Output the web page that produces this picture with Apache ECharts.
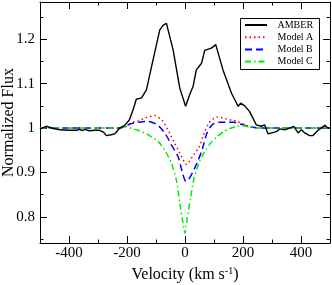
<!DOCTYPE html>
<html>
<head>
<meta charset="utf-8">
<script src="https://cdn.jsdelivr.net/npm/echarts@6/dist/echarts.min.js"></script>
<style>html,body{margin:0;padding:0;background:#fff;}#c{width:332px;height:285px;}</style>
</head>
<body>
<div id="c"></div>
<script>
// ---- data ----
var amberV = [-500,-478,-455,-430,-400,-375,-363,-355,-345,-330,-310,-294,-280,-271,-255,-242,-225,-208,-192,-179,-168,-150,-133,-110,-87,-75,-64,-59,-41,-18,2,16,28,39,57,68,91,106,131,160,183,192,206,223,246,263,275,286,315,327,344,361,375,390,401,413,430,441,459,482,493,500];
var amberF = [0.998,1.004,0.999,0.996,0.995,0.995,0.997,0.994,0.997,0.994,0.995,0.995,0.990,0.983,0.985,0.987,1.000,1.006,1.018,1.041,1.065,1.068,1.086,1.154,1.221,1.232,1.236,1.233,1.176,1.090,1.049,1.075,1.094,1.131,1.146,1.175,1.180,1.188,1.131,1.079,1.049,1.056,1.050,1.037,1.007,1.004,1.007,0.987,0.992,0.998,0.996,1.000,1.004,0.989,0.996,0.989,0.983,0.983,0.995,1.006,1.000,1.000];

var modelAV = [-500,-300,-230,-208,-185,-162,-140,-120,-105,-81,-70,-59,-47,-36,-24,-12,0,5,15,30,47,64,82,96,110,130,145,162,179,200,220,240,260,300,500];
var modelAF = [1.0,1.0,1.0,1.002,1.012,1.016,1.022,1.026,1.028,1.019,1.009,0.996,0.981,0.966,0.951,0.936,0.921,0.918,0.925,0.940,0.955,0.985,1.011,1.020,1.025,1.023,1.020,1.018,1.015,1.009,1.004,1.001,1.0,1.0,1.0];

var modelBV = [-500,-300,-230,-210,-185,-160,-128,-110,-93,-81,-70,-59,-47,-36,-24,-15,-7,0,5,12,19,30,41,59,76,93,108,122,145,168,185,202,220,240,260,300,500];
var modelBF = [1.0,1.0,1.0,1.003,1.010,1.013,1.015,1.012,1.006,0.998,0.989,0.977,0.962,0.950,0.936,0.915,0.895,0.882,0.880,0.884,0.891,0.905,0.921,0.951,0.989,1.007,1.012,1.013,1.013,1.013,1.010,1.007,1.003,1.001,1.0,1.0,1.0];

var modelCV = [-500,-300,-230,-208,-185,-162,-128,-93,-70,-47,-30,-18,-7,-2,0,2,7,19,30,41,53,70,88,110,133,155,179,202,225,250,300,500];
var modelCF = [1.0,1.0,1.0,1.003,0.999,0.995,0.985,0.970,0.951,0.921,0.884,0.831,0.786,0.768,0.763,0.770,0.795,0.842,0.884,0.908,0.929,0.949,0.966,0.980,0.992,0.999,1.004,1.005,1.002,1.0,1.0,1.0];

var xMajor = [-400,-200,0,200,400];
var xMinor = [-300,-100,100,300];
var yMajor = [0.8,0.9,1.0,1.1,1.2];
var yMinor = [0.75,0.85,0.95,1.05,1.15,1.25];

function pairs(v, f) { return v.map(function (x, i) { return [x, f[i]]; }); }

var FONT = 'Liberation Serif';
var XMIN = -500, XMAX = 500, YMIN = 0.741, YMAX = 1.284;

function xAx(pos, ticks, len, main) {
  return {
    type: 'value', position: pos, min: XMIN, max: XMAX, gridIndex: 0,
    axisLine: { show: !!main, onZero: false, lineStyle: { color: '#000', width: 1 } },
    axisTick: { show: true, inside: true, length: len, customValues: ticks, lineStyle: { color: '#000', width: 1 } },
    axisLabel: (main && pos === 'bottom') ? { show: true, customValues: xMajor, color: '#000', fontFamily: FONT, fontSize: 15, margin: 3 } : { show: false },
    splitLine: { show: false },
    name: (main && pos === 'bottom') ? 'Velocity (km s{sup|-1})' : '',
    nameLocation: 'middle', nameGap: 23, nameMoveOverlap: false,
    nameTextStyle: { color: '#000', fontFamily: FONT, fontSize: 16,
      rich: { sup: { fontFamily: FONT, fontSize: 10, color: '#000', verticalAlign: 'top', padding: [0, 0, 8, 0] } } }
  };
}
function yAx(pos, ticks, len, main) {
  return {
    type: 'value', position: pos, min: YMIN, max: YMAX, gridIndex: 0,
    axisLine: { show: !!main, onZero: false, lineStyle: { color: '#000', width: 1 } },
    axisTick: { show: true, inside: true, length: len, customValues: ticks, lineStyle: { color: '#000', width: 1 } },
    axisLabel: (main && pos === 'left') ? { show: true, customValues: yMajor, color: '#000', fontFamily: FONT, fontSize: 15, margin: 5 } : { show: false },
    splitLine: { show: false },
    name: (main && pos === 'left') ? 'Normalized Flux' : '',
    nameLocation: 'middle', nameGap: 23, nameRotate: 90, nameMoveOverlap: false,
    nameTextStyle: { color: '#000', fontFamily: FONT, fontSize: 16 }
  };
}

var chart = echarts.init(document.getElementById('c'), null, { renderer: 'canvas' });
chart.setOption({
  animation: false,
  backgroundColor: '#fff',
  grid: { left: 40, top: 2, width: 290, height: 241, containLabel: false, outerBoundsMode: 'none' },
  xAxis: [xAx('bottom', xMajor, 7, true), xAx('bottom', xMinor, 3.5, false), xAx('top', xMajor, 7, true), xAx('top', xMinor, 3.5, false)],
  yAxis: [yAx('left', yMajor, 7, true), yAx('left', yMinor, 3.5, false), yAx('right', yMajor, 7, true), yAx('right', yMinor, 3.5, false)],
  graphic: [{
    type: 'rect', left: 240, top: 18, z: 3, silent: true,
    shape: { width: 79, height: 51 },
    style: { fill: '#fff', stroke: '#000', lineWidth: 1 }
  }],
  legend: {
    left: 240, top: 19.5, orient: 'vertical', z: 10,
    data: ['AMBER', 'Model A', 'Model B', 'Model C'],
    itemWidth: 22, itemHeight: 10, itemGap: 1.2,
    padding: [0, 0, 0, 4],
    borderWidth: 0, backgroundColor: 'transparent',
    itemStyle: { opacity: 0, borderWidth: 0 },
    textStyle: { color: '#000', fontFamily: FONT, fontSize: 10, lineHeight: 11, padding: [0, 0, 0, 5.5] }
  },
  series: [
    { name: 'AMBER', type: 'line', data: pairs(amberV, amberF), showSymbol: false, symbol: 'none', z: 5,
      lineStyle: { color: '#000', width: 1.4 }, itemStyle: { color: '#000' } },
    { name: 'Model A', type: 'line', data: pairs(modelAV, modelAF), showSymbol: false, symbol: 'none', smooth: 0.3,
      lineStyle: { color: '#ff0000', width: 1.5, type: [1.5, 3] }, itemStyle: { color: '#ff0000' } },
    { name: 'Model B', type: 'line', data: pairs(modelBV, modelBF), showSymbol: false, symbol: 'none', smooth: 0.3,
      lineStyle: { color: '#0000ff', width: 1.5, type: [7, 4] }, itemStyle: { color: '#0000ff' } },
    { name: 'Model C', type: 'line', data: pairs(modelCV, modelCF), showSymbol: false, symbol: 'none', smooth: 0.2,
      lineStyle: { color: '#00ee00', width: 1.5, type: [6, 3, 1.5, 3] }, itemStyle: { color: '#00ee00' } }
  ]
});
</script>
</body>
</html>
